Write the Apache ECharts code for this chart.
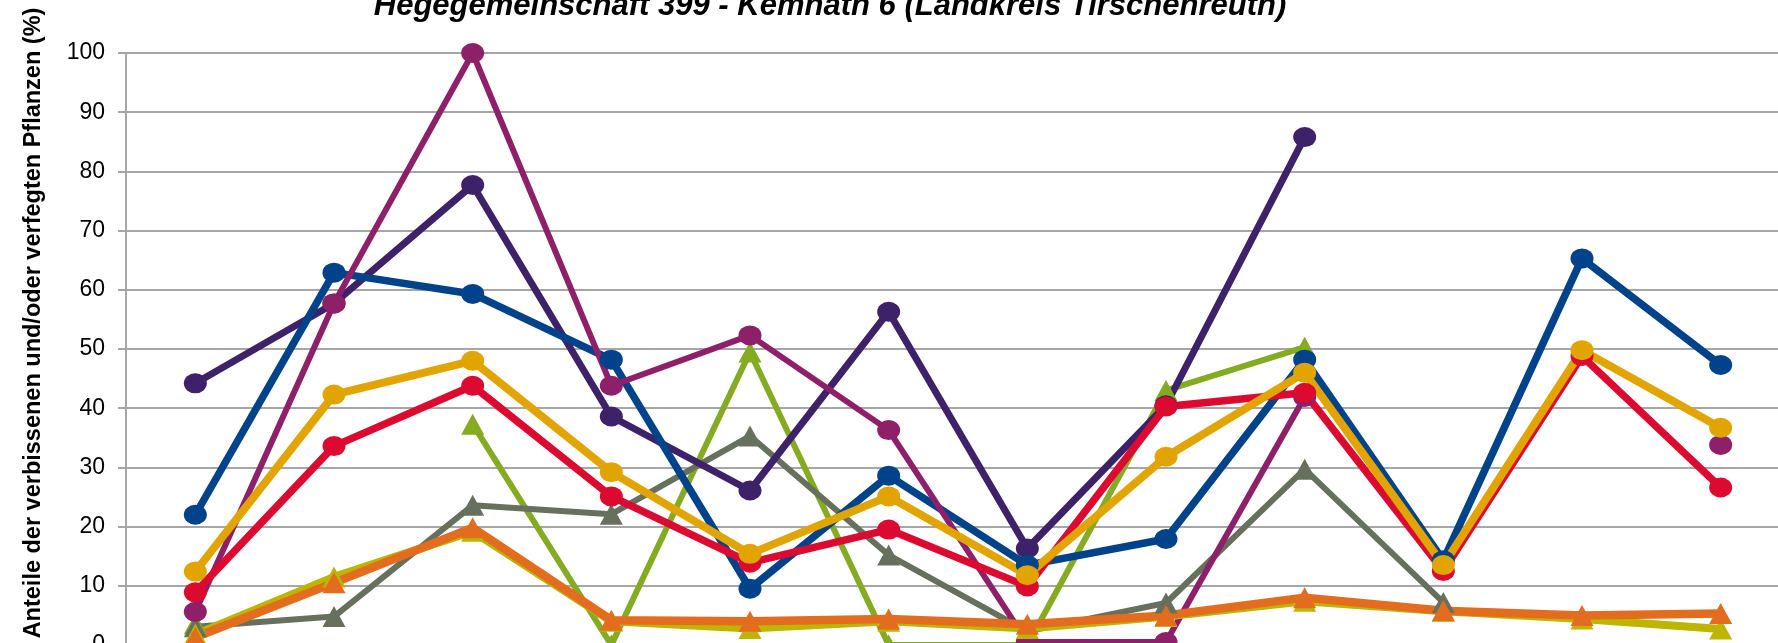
<!DOCTYPE html>
<html>
<head>
<meta charset="utf-8">
<script src="https://cdn.jsdelivr.net/npm/echarts@6/dist/echarts.min.js"></script>
<style>
html,body{margin:0;padding:0;background:#fff;}
#chart{width:1778px;height:643px;}
</style>
</head>
<body>
<div id="chart"></div>
<script>
// Categories (survey years; axis labels lie below the visible area)
const categories = ['1991','1994','1997','2000','2003','2006','2009','2012','2015','2018','2021','2024'];
const yTicks = [0,10,20,30,40,50,60,70,80,90,100];

const titleText = 'Hegegemeinschaft 399 - Kemnath 6 (Landkreis Tirschenreuth)';
const yAxisTitle = 'Anteile der verbissenen und/oder verfegten Pflanzen (%)';

// Series values (%); null = no value
const sGreen   = [3.6, null, 37.3, 0, 49.5, 0, 0, 43.0, 50.3, null, null, null];
const sGray    = [3.1, 4.8, 23.6, 22.1, 35.3, 15.2, 2.3, 7.1, 29.7, 7.2, null, null];
const sPurple  = [44.2, 57.7, 77.7, 38.6, 26.1, 56.3, 16.3, 40.5, 85.8, null, null, null];
const sBlue    = [22.0, 62.9, 59.3, 48.2, 9.5, 28.6, 13.5, 17.9, 48.2, 14.3, 65.3, 47.3];
const sMagenta = [5.6, 57.7, 100, 43.8, 52.3, 36.3, 0.5, 0.5, 41.9, null, null, 33.8];
const sRed     = [8.9, 33.6, 43.8, 25.1, 13.9, 19.5, 9.9, 40.3, 42.6, 12.5, 48.8, 26.6];
const sYellow  = [12.4, 42.3, 48.0, 29.2, 15.4, 25.1, 11.8, 31.8, 46.0, 13.5, 49.8, 36.7];
const sOlive   = [1.8, 11.5, 19.2, 4.0, 2.8, 4.0, 2.8, 4.8, 7.4, 5.7, 4.4, 2.7];
const sOrange  = [1.3, 10.5, 19.8, 4.2, 4.0, 4.4, 3.5, 5.0, 8.0, 5.8, 5.0, 5.3];

const seriesDefs = [
  {name:'Serie 1', data:sGreen,   color:'#84AB21', symbol:'triangle', width:6},
  {name:'Serie 2', data:sGray,    color:'#66705C', symbol:'triangle', width:6},
  {name:'Serie 3', data:sPurple,  color:'#3D2169', symbol:'circle',   width:7},
  {name:'Serie 4', data:sBlue,    color:'#00438A', symbol:'circle',   width:7.5},
  {name:'Serie 5', data:sMagenta, color:'#8E1F69', symbol:'circle',   width:6},
  {name:'Serie 6', data:sRed,     color:'#DC0A30', symbol:'circle',   width:7.5},
  {name:'Serie 7', data:sYellow,  color:'#E2A400', symbol:'circle',   width:8},
  {name:'Serie 8', data:sOlive,   color:'#BDB500', symbol:'triangle', width:8},
  {name:'Serie 9', data:sOrange,  color:'#E46C1E', symbol:'triangle', width:8.5}
];

const chart = echarts.init(document.getElementById('chart'), null, {renderer:'canvas'});

const gridCol = '#A6A6A6';

const option = {
  backgroundColor:'#ffffff',
  animation:false,
  grid:{left:126, right:-12, top:53, bottom:-2, containLabel:false, outerBoundsMode:'none'},
  xAxis:{
    type:'category',
    data:categories,
    boundaryGap:true,
    axisLine:{show:true, lineStyle:{color:gridCol, width:2}},
    axisTick:{show:false},
    axisLabel:{show:true, color:'#000', fontSize:20},
    splitLine:{show:false}
  },
  yAxis:{
    type:'value',
    min:yTicks[0],
    max:yTicks[yTicks.length-1],
    interval:10,
    axisLine:{show:true, lineStyle:{color:gridCol, width:2}},
    axisTick:{show:true, inside:false, length:8, lineStyle:{color:gridCol, width:2}},
    axisLabel:{color:'#000', fontSize:23, fontFamily:'Liberation Sans', margin:21},
    splitLine:{show:true, lineStyle:{color:gridCol, width:2}}
  },
  graphic:[
    {type:'text', x:830, y:6, z:100,
     style:{text:titleText, font:'italic bold 31px "Liberation Sans"', fill:'#000', align:'center', verticalAlign:'middle'}},
    {type:'text', x:34, y:323, rotation:Math.PI/2, z:100,
     style:{text:yAxisTitle, font:'bold 23.5px "Liberation Sans"', fill:'#000', align:'center', verticalAlign:'middle'}}
  ],
  series: seriesDefs.map(function(s){
    return {
      name:s.name,
      type:'line',
      data:s.data,
      connectNulls:false,
      symbol:s.symbol,
      symbolSize: s.symbol === 'circle' ? [23,20] : [23,21],
      showSymbol:true,
      lineStyle:{color:s.color, width:s.width},
      itemStyle:{color:s.color, borderWidth:0},
      emphasis:{disabled:true}
    };
  })
};

chart.setOption(option);
</script>
</body>
</html>
